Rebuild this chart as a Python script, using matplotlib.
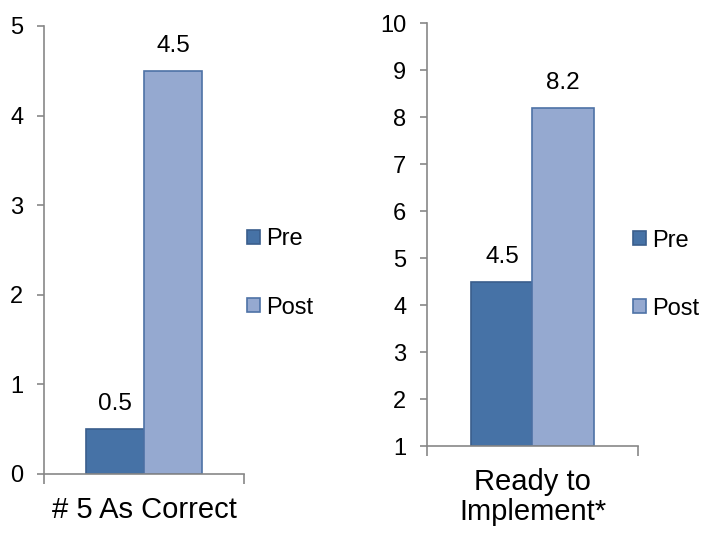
import matplotlib.pyplot as plt

plt.rcParams['font.family'] = ['Liberation Sans', 'DejaVu Sans']

# Données du graphique
series = ['Pre', 'Post']
left_category = '# 5 As Correct'
left_values = [0.5, 4.5]
right_category = 'Ready to\nImplement*'
right_values = [4.5, 8.2]

fill_colors = ['#4672A6', '#95A9D0']
edge_colors = ['#3A5E8C', '#4E72A6']
axis_color = '#878787'

fig = plt.figure(figsize=(7.03, 5.39), dpi=100)
ax1 = fig.add_axes([0.0626, 0.1206, 0.2845, 0.8312])
ax2 = fig.add_axes([0.6074, 0.1725, 0.3001, 0.7848])


def draw_panel(ax, category, values, ylim, yticks, leg_anchor):
    offsets = [-0.145, 0.145]
    for name, val, off, fc, ec in zip(series, values, offsets, fill_colors, edge_colors):
        ax.bar(off, val - ylim[0], bottom=ylim[0], width=0.29, color=fc,
               edgecolor=ec, linewidth=1.2, label=name)
        ax.annotate(f"{val}", (off, val), xytext=(0, 10), textcoords='offset points',
                    ha='center', va='bottom', fontsize=17.5)
    ax.set_xlim(-0.5, 0.5)
    ax.set_ylim(*ylim)
    ax.set_yticks(yticks)
    ax.set_xticks([0], [category])
    for lbl in ax.get_xticklabels():
        lbl.set_linespacing(1.1)
    ax.set_xticks([-0.5, 0.5], minor=True)
    ax.tick_params(axis='x', which='major', length=0, pad=16, labelsize=21)
    ax.tick_params(axis='x', which='minor', length=7, width=1.2, color=axis_color)
    ax.tick_params(axis='y', length=5, width=1.2, color=axis_color, labelsize=17, pad=10)
    for s in ['top', 'right']:
        ax.spines[s].set_visible(False)
    for s in ['left', 'bottom']:
        ax.spines[s].set_color(axis_color)
        ax.spines[s].set_linewidth(1.2)
    ax.legend(loc='center left', bbox_to_anchor=leg_anchor, frameon=False,
              fontsize=17, handlelength=0.55, handleheight=0.55, handletextpad=0.25,
              labelspacing=1.95, borderpad=0, borderaxespad=0)


draw_panel(ax1, left_category, left_values, (0, 5), range(0, 6), (1.015, 0.4475))
draw_panel(ax2, right_category, right_values, (1, 10), range(1, 11), (0.976, 0.405))

fig.savefig('out.png', dpi=100)
